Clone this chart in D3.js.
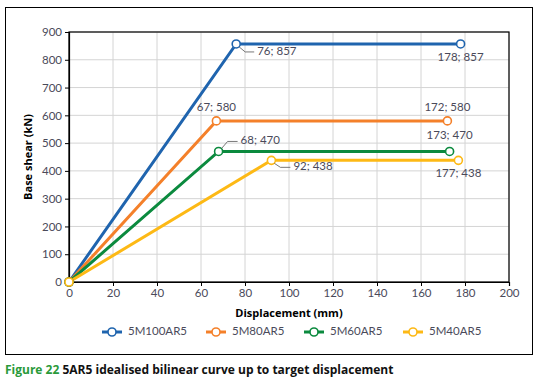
<!DOCTYPE html>
<html>
<head>
<meta charset="utf-8">
<script src="https://cdn.jsdelivr.net/npm/d3@7"></script>
<style>
  body { margin: 0; background: #fff; }
  svg { font-family: "Open Sans", "Noto Sans", sans-serif; }
</style>
</head>
<body>
<script>
// series data: displacement (mm) and base shear (kN)
const seriesNames = ["5M100AR5", "5M80AR5", "5M60AR5", "5M40AR5"];
const seriesColors = ["#1f64ae", "#f4802a", "#0b8a3e", "#fdb915"];
const dispValues = [[0, 76, 178], [0, 67, 172], [0, 68, 173], [0, 92, 177]];
const shearValues = [[0, 857, 857], [0, 580, 580], [0, 470, 470], [0, 438, 438]];
const xTicks = [0, 20, 40, 60, 80, 100, 120, 140, 160, 180, 200];
const yTicks = [0, 100, 200, 300, 400, 500, 600, 700, 800, 900];

// label placement per point: [dx, dy, anchor, leader]
const labelPos = [
  [null, [21, 8, "start", true], [0, 14, "middle", false]],
  [null, [0, -13, "middle", false], [0, -13, "middle", false]],
  [null, [22, -10, "start", true], [0, -15, "middle", false]],
  [null, [22, 7, "start", true], [0, 14, "middle", false]]
];

const W = 542, H = 385;
const margin = {left: 69, top: 32, right: 33, bottom: 103};
const textFont = "Lato, 'Open Sans', sans-serif";

const svg = d3.select("body").append("svg")
  .attr("width", W).attr("height", H);

// outer frame
svg.append("rect")
  .attr("x", 5.5).attr("y", 7.5).attr("width", 527).attr("height", 347)
  .attr("fill", "none").attr("stroke", "#000").attr("stroke-width", 1);

const x = d3.scaleLinear().domain([0, 200]).range([margin.left, W - margin.right]);
const y = d3.scaleLinear().domain([0, 900]).range([H - margin.bottom, margin.top]);

// grid
svg.append("g")
  .selectAll("line.v").data(xTicks).join("line")
  .attr("x1", d => x(d)).attr("x2", d => x(d))
  .attr("y1", y(0)).attr("y2", y(900))
  .attr("stroke", "#d4d4d4").attr("stroke-width", 1);
svg.append("g")
  .selectAll("line.h").data(yTicks).join("line")
  .attr("x1", x(0)).attr("x2", x(200))
  .attr("y1", d => y(d)).attr("y2", d => y(d))
  .attr("stroke", "#d4d4d4").attr("stroke-width", 1);

// plot border
svg.append("rect")
  .attr("x", x(0)).attr("y", y(900))
  .attr("width", x(200) - x(0)).attr("height", y(0) - y(900))
  .attr("fill", "none").attr("stroke", "#000").attr("stroke-width", 1.2);

// axes
const xAxis = d3.axisBottom(x).tickValues(xTicks).tickSize(4).tickPadding(3);
const yAxis = d3.axisLeft(y).tickValues(yTicks).tickSize(4).tickPadding(3);

const gx = svg.append("g").attr("transform", "translate(0," + y(0) + ")").call(xAxis);
const gy = svg.append("g").attr("transform", "translate(" + x(0) + ",0)").call(yAxis);
[gx, gy].forEach(g => {
  g.select(".domain").attr("stroke", "#000").attr("stroke-width", 1.2);
  g.selectAll(".tick line").attr("stroke", "#000");
  g.selectAll(".tick text").attr("fill", "#4a4a5a")
    .style("font-size", "11.5px").style("font-family", textFont);
});

// axis titles
svg.append("text")
  .attr("x", (x(0) + x(200)) / 2).attr("y", 317)
  .attr("text-anchor", "middle")
  .style("font-size", "11px").style("font-weight", "bold")
  .text("Displacement (mm)");
svg.append("text")
  .attr("transform", "translate(32," + ((y(0) + y(900)) / 2) + ") rotate(-90)")
  .attr("text-anchor", "middle")
  .style("font-size", "11px").style("font-weight", "bold")
  .text("Base shear (kN)");

// lines and markers
const line = d3.line().x(d => x(d[0])).y(d => y(d[1]));
seriesNames.forEach((name, s) => {
  const pts = dispValues[s].map((d, i) => [d, shearValues[s][i]]);
  svg.append("path")
    .datum(pts)
    .attr("d", line)
    .attr("fill", "none")
    .attr("stroke", seriesColors[s])
    .attr("stroke-width", 3);
});
seriesNames.forEach((name, s) => {
  const pts = dispValues[s].map((d, i) => [d, shearValues[s][i]]);
  svg.append("g").selectAll("circle").data(pts).join("circle")
    .attr("cx", d => x(d[0])).attr("cy", d => y(d[1]))
    .attr("r", 4)
    .attr("fill", "#fff")
    .attr("stroke", seriesColors[s])
    .attr("stroke-width", 1.6);
});

// data labels
seriesNames.forEach((name, s) => {
  dispValues[s].forEach((d, i) => {
    const p = labelPos[s][i];
    if (!p) return;
    const px = x(d), py = y(shearValues[s][i]);
    if (p[3]) {
      const ex = px + p[0] - 3, ey = py + p[1] + (p[1] > 0 ? 0 : 0);
      svg.append("path")
        .attr("d", "M" + (px + 3) + "," + (py + (p[1] > 0 ? 3 : -3)) +
              "L" + (px + 9) + "," + ey + "L" + ex + "," + ey)
        .attr("fill", "none").attr("stroke", "#555").attr("stroke-width", 0.8);
    }
    svg.append("text")
      .attr("x", px + p[0]).attr("y", py + p[1])
      .attr("text-anchor", p[2])
      .attr("dominant-baseline", "middle")
      .attr("fill", "#4a4a5a")
      .style("font-size", "11.5px").style("font-family", textFont)
      .text(d + "; " + shearValues[s][i]);
  });
});

// legend
const legendX = [102, 206, 304, 403];
const legend = svg.append("g");
seriesNames.forEach((name, s) => {
  const lx = legendX[s], ly = 332;
  legend.append("line")
    .attr("x1", lx).attr("x2", lx + 20).attr("y1", ly).attr("y2", ly)
    .attr("stroke", seriesColors[s]).attr("stroke-width", 3);
  legend.append("circle")
    .attr("cx", lx + 10).attr("cy", ly).attr("r", 4)
    .attr("fill", "#fff").attr("stroke", seriesColors[s]).attr("stroke-width", 1.6);
  legend.append("text")
    .attr("x", lx + 26).attr("y", ly).attr("dominant-baseline", "middle")
    .attr("fill", "#4a4a5a").style("font-size", "11.5px").style("font-family", textFont)
    .text(name);
});

// caption
const cap = svg.append("text").attr("x", 5).attr("y", 374)
  .style("font-size", "12px").style("font-weight", "bold");
cap.append("tspan").attr("fill", "#2a9a3a").text("Figure 22 ");
cap.append("tspan").attr("fill", "#111").text("5AR5 idealised bilinear curve up to target displacement");
</script>
</body>
</html>
